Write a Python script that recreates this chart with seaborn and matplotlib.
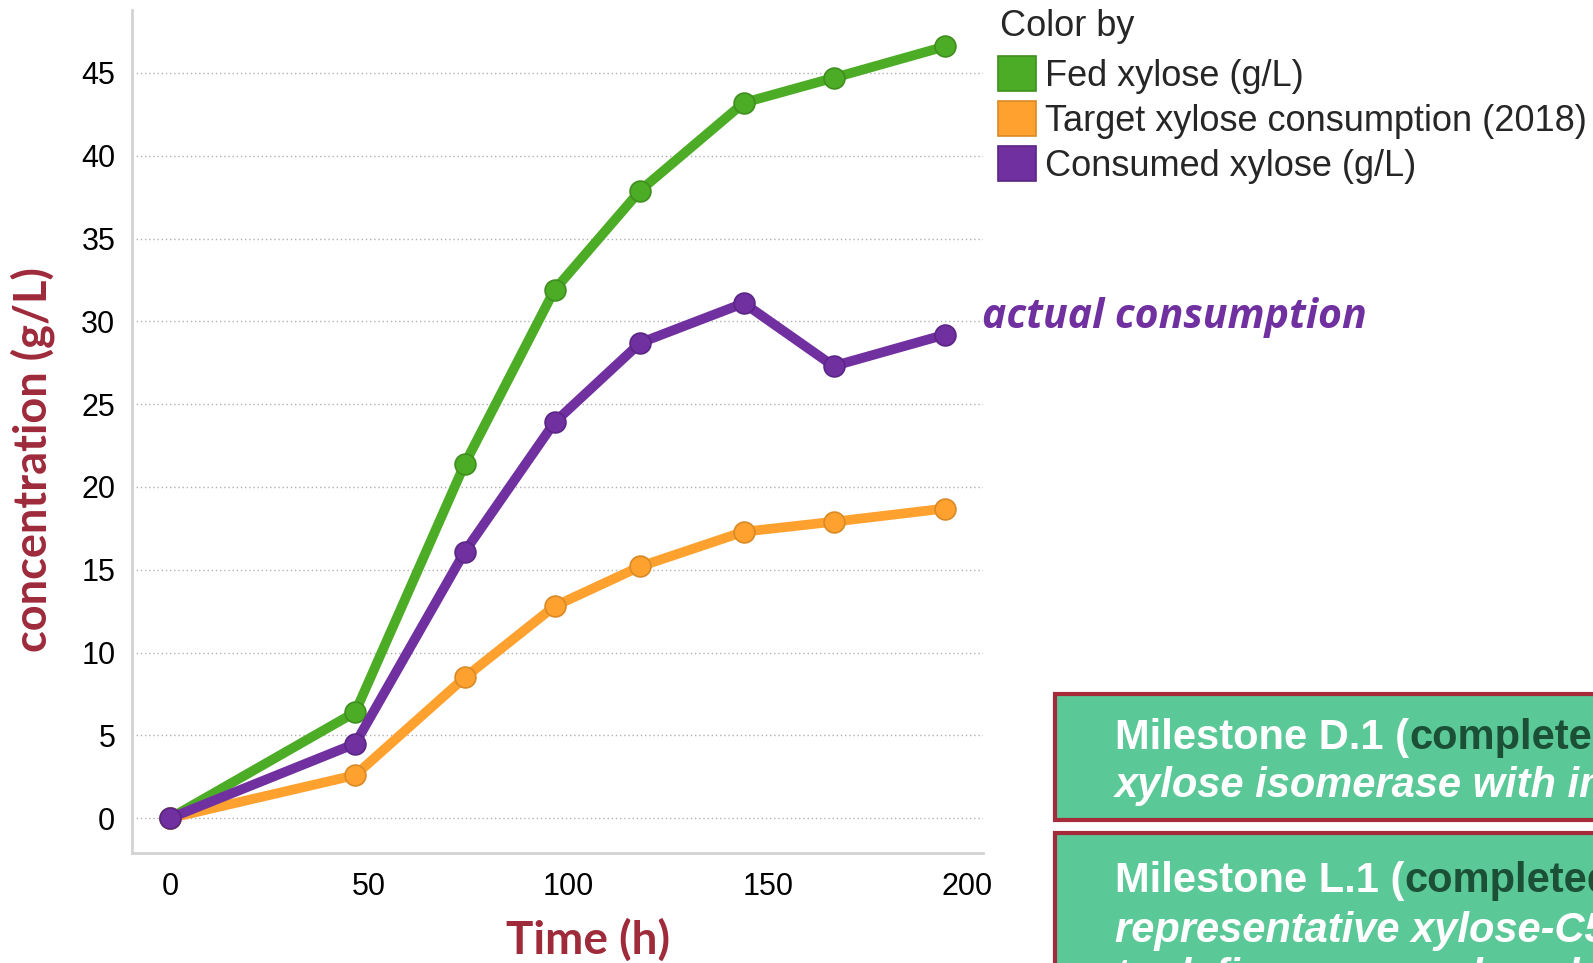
import matplotlib
matplotlib.use("Agg")
from matplotlib import pyplot as plt
from matplotlib.patches import Patch, Rectangle
import pandas as pd
import seaborn as sns

sns.set_style("white")
plt.rcParams["font.family"] = ["Liberation Sans", "DejaVu Sans"]

# data
time_h = [0, 46.5, 74, 96.5, 118, 144, 166.5, 194.5]
fed_xylose = [0, 6.4, 21.4, 31.9, 37.9, 43.2, 44.7, 46.6]
target_consumption = [0, 2.6, 8.5, 12.8, 15.2, 17.3, 17.9, 18.7]
consumed_xylose = [0, 4.5, 16.1, 23.9, 28.7, 31.1, 27.3, 29.2]

series_names = ["Fed xylose (g/L)", "Target xylose consumption (2018)", "Consumed xylose (g/L)"]
colors = ["#4DAC26", "#FFA12E", "#7030A0"]
edge_colors = ["#3F8E1F", "#D98A26", "#5B2585"]
y_ticks = [0, 5, 10, 15, 20, 25, 30, 35, 40, 45]
x_ticks = [0, 50, 100, 150, 200]

df = pd.concat([
    pd.DataFrame({"Time": time_h, "conc": fed_xylose, "series": series_names[0]}),
    pd.DataFrame({"Time": time_h, "conc": target_consumption, "series": series_names[1]}),
    pd.DataFrame({"Time": time_h, "conc": consumed_xylose, "series": series_names[2]}),
])

W, H = 1593, 963
fig = plt.figure(figsize=(W / 100, H / 100), dpi=100)
ax = fig.add_axes([132 / W, 1 - 853 / H, (983 - 132) / W, (853 - 10) / H])

sns.lineplot(data=df, x="Time", y="conc", hue="series", hue_order=series_names,
             palette=colors, marker="o", markersize=15, linewidth=7,
             legend=False, ax=ax)
for line, ec in zip(ax.lines, edge_colors):
    line.set_markeredgecolor(ec)
    line.set_markeredgewidth(1.2)
    line.set_solid_capstyle("round")
    line.set_clip_on(False)

ax.set_xlim(-9.5, 204)
ax.set_ylim(-2.1, 48.8)
ax.set_xticks(x_ticks)
ax.set_yticks(y_ticks)
ax.tick_params(axis="both", labelsize=22, colors="#C8C8C8", labelcolor="black",
               length=6, width=1.5, direction="out", pad=6)
ax.tick_params(axis="x", pad=8)
ax.grid(axis="y", linestyle=(0, (1, 2)), color="#B0B0B0", linewidth=1)
ax.grid(axis="x", visible=False)
for side in ["top", "right"]:
    ax.spines[side].set_visible(False)
for side in ["left", "bottom"]:
    ax.spines[side].set_color("#D3D3D3")
    ax.spines[side].set_linewidth(2)

label_color = "#9E2A3A"
ax.set_xlabel("")
ax.set_ylabel("")
fig.text(588 / W, 1 - 940 / H, "Time (h)", family="Lato", weight="bold",
         fontsize=33, color=label_color, ha="center", va="center")
fig.text(33 / W, 1 - 460 / H, "concentration (g/L)", family="Lato", weight="bold",
         fontsize=32.5, color=label_color, ha="center", va="center", rotation=90)

# legend
fig.text(1000 / W, 1 - 27 / H, "Color by", fontsize=26, ha="left", va="center")
handles = [Patch(facecolor=c, edgecolor=e, linewidth=1.2) for c, e in zip(colors, edge_colors)]
leg = fig.legend(handles, series_names, loc="upper left",
                 bbox_to_anchor=(998 / W, 1 - 56 / H), frameon=False, fontsize=26,
                 handlelength=1.05, handleheight=1.1,
                 handletextpad=0.25, labelspacing=0.21, borderpad=0,
                 borderaxespad=0)

fig.text(982 / W, 1 - 317 / H, "actual consumption", family="Open Sans", weight="bold",
         style="italic", fontsize=29.5, color="#7030A0", ha="left", va="center")

# milestone boxes (cut by the right and bottom edges)
box_fill = "#5BC897"
box_edge = "#A52A3A"
fig.patches.append(Rectangle((1055 / W, 1 - 820 / H), 0.5, 126 / H, transform=fig.transFigure,
                             facecolor=box_fill, edgecolor=box_edge, linewidth=3, zorder=1))
fig.patches.append(Rectangle((1055 / W, -0.2), 0.5, 0.2 + 1 - 833 / H, transform=fig.transFigure,
                             facecolor=box_fill, edgecolor=box_edge, linewidth=3, zorder=1))

box_font = dict(fontsize=30, weight="bold", ha="left", va="baseline")
tx = 1115 / W
t1 = fig.text(tx, 1 - 749 / H, "Milestone D.1 (", color="white", **box_font)
fig.text(tx, 1 - 797 / H, "xylose isomerase with improved activity", color="white",
         style="italic", **box_font)
t2 = fig.text(tx, 1 - 892 / H, "Milestone L.1 (", color="white", **box_font)
fig.text(tx, 1 - 942 / H, "representative xylose-C5 stream", color="white",
         style="italic", **box_font)
fig.text(tx, 1 - 988 / H, "to define process benchmarks", color="white",
         style="italic", **box_font)

fig.canvas.draw()
renderer = fig.canvas.get_renderer()
for t in (t1, t2):
    bb = t.get_window_extent(renderer)
    fig.text(bb.x1 / W, t.get_position()[1], "completed)", color="#1B5036", **box_font)

fig.savefig("out.png", dpi=100)
